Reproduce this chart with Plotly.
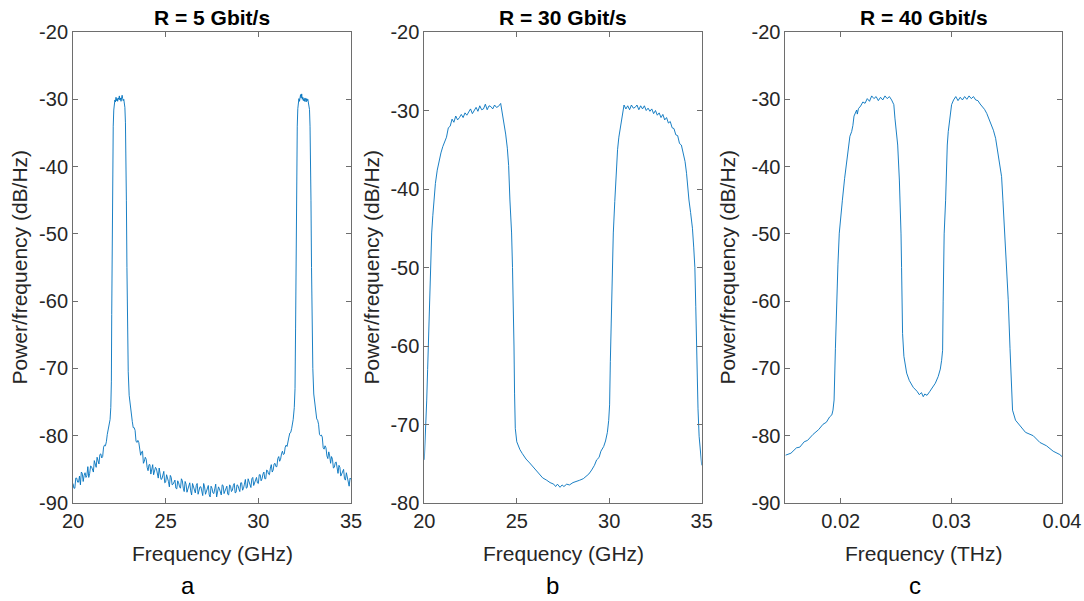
import plotly.graph_objects as go

# ---------------- spectra (power spectral density, dB/Hz) ----------------
# a) R = 5 Gbit/s, frequency in GHz
freq_a = [20.0, 20.05, 20.1, 20.15, 20.2, 20.25, 20.3, 20.35, 20.4, 20.45,
          20.5, 20.55, 20.6, 20.65, 20.7, 20.75, 20.8, 20.85, 20.9, 20.95,
          21.0, 21.05, 21.1, 21.15, 21.2, 21.25, 21.3, 21.35, 21.4, 21.45,
          21.5, 21.55, 21.6, 21.65, 21.7, 21.75, 21.8, 21.85, 21.9,
          22.0, 22.04, 22.07, 22.09, 22.11, 22.13, 22.15, 22.17, 22.2, 22.23,
          22.26, 22.29, 22.32, 22.35, 22.38, 22.41, 22.44, 22.47, 22.5, 22.53,
          22.56, 22.59, 22.62, 22.65, 22.68, 22.71, 22.74, 22.77, 22.8, 22.83,
          22.86, 22.88, 22.91, 22.94, 22.98, 23.03, 23.1,
          23.15, 23.2, 23.25, 23.3, 23.35, 23.4, 23.45, 23.5, 23.55, 23.6,
          23.65, 23.7, 23.75, 23.8, 23.85, 23.9, 23.95, 24.0, 24.05, 24.1,
          24.15, 24.2, 24.25, 24.3, 24.35, 24.4, 24.45, 24.5, 24.55, 24.6,
          24.65, 24.7, 24.75, 24.8, 24.85, 24.9, 24.95, 25.0, 25.05, 25.1,
          25.15, 25.2, 25.25, 25.3, 25.35, 25.4, 25.45, 25.5, 25.55, 25.6,
          25.65, 25.7, 25.75, 25.8, 25.85, 25.9, 25.95, 26.0, 26.05, 26.1,
          26.15, 26.2, 26.25, 26.3, 26.35, 26.4, 26.45, 26.5, 26.55, 26.6,
          26.65, 26.7, 26.75, 26.8, 26.85, 26.9, 26.95, 27.0, 27.05, 27.1,
          27.15, 27.2, 27.25, 27.3, 27.35, 27.4, 27.45, 27.5, 27.55, 27.6,
          27.65, 27.7, 27.75, 27.8, 27.85, 27.9, 27.95, 28.0, 28.05, 28.1,
          28.15, 28.2, 28.25, 28.3, 28.35, 28.4, 28.45, 28.5, 28.55, 28.6,
          28.65, 28.7, 28.75, 28.8, 28.85, 28.9, 28.95, 29.0, 29.05, 29.1,
          29.15, 29.2, 29.25, 29.3, 29.35, 29.4, 29.45, 29.5, 29.55, 29.6,
          29.65, 29.7, 29.75, 29.8, 29.85, 29.9, 29.95, 30.0, 30.05, 30.1,
          30.15, 30.2, 30.25, 30.3, 30.35, 30.4, 30.45, 30.5, 30.55, 30.6,
          30.65, 30.7, 30.75, 30.8, 30.85, 30.9, 30.95, 31.0, 31.05, 31.1,
          31.15, 31.2, 31.25, 31.3, 31.35, 31.4, 31.45, 31.5, 31.55, 31.6,
          31.65, 31.7, 31.75, 31.8,
          31.88, 31.94, 31.98, 32.01, 32.03, 32.06,
          32.08, 32.1, 32.13, 32.16, 32.19, 32.22, 32.25, 32.28, 32.31, 32.34,
          32.37, 32.4, 32.43, 32.46, 32.49, 32.52, 32.55, 32.58, 32.61, 32.64,
          32.67, 32.7, 32.73, 32.76, 32.79, 32.82, 32.84, 32.87, 32.9, 32.94,
          32.99, 33.05, 33.1,
          33.15, 33.2, 33.25, 33.3, 33.35, 33.4, 33.45, 33.5, 33.55, 33.6,
          33.65, 33.7, 33.75, 33.8, 33.85, 33.9, 33.95, 34.0, 34.05, 34.1,
          34.15, 34.2, 34.25, 34.3, 34.35, 34.4, 34.45, 34.5, 34.55, 34.6,
          34.65, 34.7, 34.75, 34.8, 34.85, 34.9, 34.95, 35.0]
psd_a = [-87.1, -87.8, -87.8, -86.3, -86.3, -86.9, -86.9, -86.0, -87.3, -85.4,
         -85.6, -86.8, -85.9, -85.5, -86.2, -85.9, -84.6, -86.2, -85.6, -84.5,
         -84.6, -85.2, -85.4, -83.7, -84.5, -84.7, -83.2, -83.9, -84.2, -82.8,
         -82.7, -83.3, -83.1, -81.7, -81.4, -81.5, -80.9, -79.8, -78.9,
         -77.6, -75.8, -72.0, -62.0, -52.0, -44.0, -37.5, -34.0, -31.6, -30.6,
         -30.1, -30.4, -29.7, -30.2, -29.9, -30.3, -29.8, -30.0, -29.5, -30.1,
         -29.8, -30.3, -29.6, -29.4, -29.9, -30.2, -30.0, -30.5, -31.2, -33.5,
         -38.0, -45.0, -55.0, -64.0, -70.5, -74.0, -75.9,
         -76.6, -77.9, -78.8, -78.8, -79.2, -80.8, -81.0, -80.7, -81.0, -82.4,
         -82.9, -82.4, -82.3, -84.1, -83.8, -83.2, -83.5, -84.7, -85.2, -84.3,
         -84.3, -85.7, -84.8, -84.3, -85.8, -85.4, -84.7, -84.9, -85.9, -86.3,
         -84.8, -85.7, -86.5, -86.4, -85.7, -85.3, -87.0, -86.9, -85.8, -86.2,
         -86.8, -87.6, -85.9, -86.2, -87.3, -87.2, -86.8, -86.6, -87.8, -87.9,
         -86.7, -87.0, -87.6, -87.8, -86.4, -86.7, -87.8, -88.3, -86.8, -87.2,
         -88.4, -87.9, -87.3, -87.0, -88.2, -88.8, -87.1, -87.6, -88.1, -88.5,
         -87.4, -87.1, -88.7, -88.3, -87.6, -87.6, -88.2, -88.9, -87.1, -87.6,
         -88.7, -88.3, -87.8, -87.4, -88.8, -89.1, -87.5, -87.8, -88.5, -88.6,
         -87.9, -87.2, -89.1, -88.5, -87.6, -87.9, -88.3, -88.8, -87.3, -87.4,
         -88.6, -88.3, -87.8, -87.5, -88.7, -88.8, -87.3, -87.5, -88.3, -88.1,
         -87.4, -87.1, -88.5, -88.4, -87.3, -87.4, -87.9, -88.3, -87.0, -87.0,
         -88.1, -87.8, -87.2, -86.5, -87.8, -87.7, -86.4, -86.9, -87.3, -87.7,
         -86.4, -86.2, -87.4, -87.0, -86.4, -86.2, -87.0, -87.1, -85.8, -85.8,
         -86.7, -86.4, -85.7, -85.4, -86.4, -86.4, -85.1, -85.2, -85.7, -85.8,
         -84.8, -84.3, -85.4, -85.1, -84.2, -84.1, -84.6, -84.6, -83.4, -83.1,
         -83.8, -83.5, -82.7, -82.3, -82.8, -82.7, -81.7, -81.4, -81.6, -81.1,
         -80.2, -79.6, -79.5, -78.9,
         -77.6, -75.8, -73.0, -64.0, -54.0, -45.0,
         -38.0, -34.0, -31.4, -30.5, -29.9, -30.3, -29.6, -29.3, -29.8, -29.2,
         -30.0, -29.7, -30.2, -29.9, -30.3, -29.8, -30.1, -30.4, -29.9, -30.2,
         -30.0, -30.4, -30.7, -31.5, -34.0, -39.0, -45.0, -55.0, -63.0, -70.0,
         -73.8, -75.3, -76.3,
         -77.5, -77.7, -78.3, -79.8, -80.0, -79.9, -80.2, -81.8, -82.0, -81.5,
         -81.8, -83.0, -83.4, -82.4, -83.0, -84.1, -83.1, -83.5, -84.8, -84.7,
         -84.0, -83.9, -85.0, -85.6, -84.4, -84.7, -86.0, -85.7, -85.3, -85.0,
         -86.4, -86.6, -85.5, -86.1, -86.9, -87.5, -86.3, -86.5]

# b) R = 30 Gbit/s, frequency in GHz
freq_b = [20.0, 20.02, 20.05, 20.09, 20.13, 20.18, 20.22, 20.27, 20.31, 20.36,
          20.4, 20.46, 20.52, 20.6, 20.7, 20.8, 20.9, 21.0, 21.1, 21.2,
          21.3, 21.4, 21.5, 21.6, 21.7, 21.8, 21.9, 22.0, 22.1, 22.2,
          22.3, 22.4, 22.5, 22.6, 22.7, 22.8, 22.9, 23.0, 23.1, 23.2,
          23.3, 23.4, 23.5, 23.6, 23.7, 23.8, 23.9, 24.0, 24.13, 24.2,
          24.31, 24.4, 24.49, 24.56, 24.63, 24.72, 24.77, 24.81, 24.85, 24.88,
          24.92, 25.0, 25.17, 25.3, 25.5, 25.7, 25.88, 26.0, 26.2, 26.4,
          26.62, 26.8, 27.0, 27.1, 27.2, 27.34, 27.45, 27.55, 27.7, 27.85,
          28.04, 28.2, 28.4, 28.6, 28.78, 28.9, 29.05, 29.2, 29.32, 29.45,
          29.55, 29.7, 29.8, 29.9, 29.97, 30.02, 30.06, 30.1, 30.13, 30.17,
          30.22, 30.3, 30.38, 30.45, 30.52, 30.6, 30.68, 30.75, 30.8, 30.9,
          31.0, 31.1, 31.2, 31.3, 31.4, 31.5, 31.6, 31.7, 31.8, 31.9,
          32.0, 32.1, 32.2, 32.3, 32.4, 32.5, 32.6, 32.7, 32.8, 32.9,
          33.0, 33.1, 33.2, 33.3, 33.4, 33.5, 33.6, 33.7, 33.8, 33.9,
          34.0, 34.1, 34.18, 34.25, 34.31, 34.4, 34.5, 34.57, 34.63, 34.68,
          34.72, 34.76, 34.8, 34.86, 34.93, 35.0]
psd_b = [-74.5, -73.5, -72.8, -70.0, -67.0, -63.0, -60.0, -55.0, -50.5, -47.5,
         -45.6, -43.4, -41.4, -39.3, -37.6, -36.3, -35.4, -34.6, -33.9, -33.4,
         -32.2, -32.0, -31.1, -31.5, -30.7, -31.2, -30.9, -30.5, -30.9, -30.3,
         -30.6, -30.2, -29.8, -30.4, -29.9, -29.6, -30.1, -29.4, -29.9, -29.8,
         -29.2, -29.9, -29.4, -29.5, -29.8, -29.3, -29.6, -29.5, -29.1, -30.0,
         -31.6, -33.0, -34.8, -37.0, -41.4, -45.6, -50.0, -54.0, -60.0, -66.0,
         -70.5, -72.2, -73.2, -73.7, -74.4, -74.9, -75.4, -75.8, -76.3, -76.8,
         -77.1, -77.4, -77.6, -77.9, -77.6, -78.0, -77.7, -77.9, -77.6, -77.7,
         -77.4, -77.3, -77.1, -76.9, -76.6, -76.3, -75.8, -75.2, -74.5, -74.2,
         -73.4, -72.8, -72.1, -71.0, -69.5, -67.5, -62.0, -57.0, -54.0, -49.5,
         -45.6, -41.6, -37.0, -35.0, -33.4, -32.3, -31.0, -29.8, -29.3, -29.8,
         -29.4, -29.9, -29.3, -29.7, -29.6, -29.3, -29.9, -29.4, -29.8, -29.4,
         -30.0, -29.7, -30.1, -29.8, -30.4, -30.0, -30.6, -30.3, -30.9, -30.5,
         -31.2, -30.9, -31.6, -31.4, -32.2, -32.3, -33.1, -33.2, -34.2, -34.4,
         -35.4, -36.5, -38.0, -40.0, -41.4, -43.0, -45.0, -47.5, -50.0, -55.0,
         -60.0, -64.0, -68.0, -71.5, -73.8, -75.2]

# c) R = 40 Gbit/s, frequency in THz
freq_c = [0.015, 0.0155, 0.016, 0.0163, 0.0167, 0.017, 0.0175, 0.018, 0.0184, 0.0187,
          0.019, 0.0192, 0.0193, 0.0194, 0.01952, 0.01963, 0.01975, 0.01987, 0.02, 0.02015,
          0.02035, 0.02054, 0.02068, 0.02083, 0.02099, 0.0211, 0.0212, 0.02135, 0.02144, 0.0215,
          0.0216, 0.0218, 0.022, 0.0222, 0.0224, 0.0226, 0.0228, 0.023, 0.0232, 0.0234,
          0.0236, 0.0238, 0.024, 0.0242, 0.0244, 0.0246, 0.0248, 0.0249, 0.025, 0.02515,
          0.0253, 0.02538, 0.02545, 0.0255, 0.02559, 0.02571, 0.02585, 0.02596, 0.0262, 0.02655,
          0.0269, 0.0271, 0.0273, 0.02746, 0.0276, 0.0278, 0.02806, 0.0283, 0.02855, 0.02881,
          0.029, 0.02912, 0.02921, 0.02926, 0.02935, 0.02948, 0.02956, 0.02963, 0.02972, 0.02981,
          0.0299, 0.03002, 0.0302, 0.0304, 0.0306, 0.0308, 0.031, 0.0312, 0.0314, 0.0316,
          0.0318, 0.032, 0.0322, 0.0324, 0.0326, 0.0328, 0.033, 0.0332, 0.0334, 0.0336,
          0.0338, 0.034, 0.03409, 0.0343, 0.03454, 0.03466, 0.03484, 0.035, 0.03514, 0.0353,
          0.03544, 0.03553, 0.0358, 0.0362, 0.0367, 0.0374, 0.038, 0.0386, 0.0392, 0.0398,
          0.04]
psd_c = [-82.9, -82.6, -81.8, -81.7, -80.9, -80.7, -79.8, -79.1, -78.3, -78.0,
         -77.2, -76.9, -76.2, -74.7, -67.0, -59.8, -54.5, -49.9, -47.0, -45.0,
         -41.8, -39.0, -36.8, -35.5, -34.8, -33.9, -32.5, -32.0, -31.6, -32.2,
         -31.4, -31.0, -30.4, -30.6, -29.9, -30.3, -29.5, -29.9, -29.6, -30.2,
         -29.7, -30.1, -29.5, -29.9, -29.6, -30.1, -30.8, -32.8, -34.5, -36.8,
         -42.0, -45.0, -50.0, -55.0, -64.8, -68.2, -69.8, -70.7, -71.8, -72.8,
         -73.4, -73.9, -73.6, -74.2, -73.8, -74.0, -73.4, -72.9, -72.2, -71.2,
         -70.1, -68.8, -67.3, -60.0, -50.0, -45.0, -40.0, -36.8, -34.8, -33.8,
         -32.2, -30.8, -30.1, -29.6, -30.2, -29.7, -30.1, -29.6, -30.0, -29.5,
         -29.9, -29.6, -30.1, -30.2, -30.7, -31.1, -31.5, -32.1, -32.9, -33.6,
         -34.6, -35.8, -36.8, -39.5, -41.5, -45.0, -49.9, -55.0, -59.8, -67.0,
         -74.7, -76.2, -77.7, -78.5, -79.5, -80.0, -81.0, -81.5, -82.3, -82.8,
         -83.1]

panel_titles = ["R = 5 Gbit/s", "R = 30 Gbit/s", "R = 40 Gbit/s"]
x_titles = ["Frequency (GHz)", "Frequency (GHz)", "Frequency (THz)"]
y_title = "Power/frequency (dB/Hz)"
captions = ["a", "b", "c"]

x_ranges = [[20, 35], [20, 35], [0.015, 0.04]]
x_ticks = [[20, 25, 30, 35], [20, 25, 30, 35], [0.02, 0.03, 0.04]]
x_ticktext = [["20", "25", "30", "35"], ["20", "25", "30", "35"], ["0.02", "0.03", "0.04"]]
y_ranges = [[-90, -20], [-80, -20], [-90, -20]]
y_ticks = [[-90, -80, -70, -60, -50, -40, -30, -20],
           [-80, -70, -60, -50, -40, -30, -20],
           [-90, -80, -70, -60, -50, -40, -30, -20]]

# ---------------- page geometry (pixels) ----------------
W, H = 1084, 601
ax_left = [73, 424.3, 785.4]
ax_right = [351, 701.7, 1062]
ax_top, ax_bottom = 32, 503
ylab_x = [19, 371, 727]
cap_x = [188, 552, 915]

FONT = "Liberation Sans, Arial, Helvetica, sans-serif"
TXT = "#262626"
AXC = "#6e6e6e"
LINE = "#0072BD"


def fx(px):
    return px / W


def fy(py):
    return 1 - py / H


fig = go.Figure()
series = [(freq_a, psd_a), (freq_b, psd_b), (freq_c, psd_c)]
layout = dict(
    width=W, height=H,
    margin=dict(l=0, r=0, t=0, b=0),
    paper_bgcolor="white", plot_bgcolor="white",
    showlegend=False,
    font=dict(family=FONT, color=TXT, size=20),
)
annotations = []
for i, (xs, ys) in enumerate(series):
    sfx = "" if i == 0 else str(i + 1)
    fig.add_trace(go.Scatter(
        x=xs, y=ys, mode="lines",
        line=dict(color=LINE, width=0.9),
        xaxis="x" + sfx, yaxis="y" + sfx,
        hoverinfo="skip",
    ))
    axis_common = dict(
        showline=True, linecolor=AXC, linewidth=1, mirror="ticks",
        ticks="inside", ticklen=5, tickwidth=1, tickcolor=AXC,
        showgrid=False, zeroline=False, automargin=False,
        tickfont=dict(family=FONT, size=20, color=TXT),
    )
    layout["xaxis" + sfx] = dict(
        axis_common,
        domain=[fx(ax_left[i]), fx(ax_right[i])],
        range=x_ranges[i], tickvals=x_ticks[i], ticktext=x_ticktext[i],
        anchor="y" + sfx,
    )
    layout["yaxis" + sfx] = dict(
        axis_common,
        domain=[fy(ax_bottom), fy(ax_top)],
        range=y_ranges[i], tickvals=y_ticks[i],
        ticktext=[str(v) for v in y_ticks[i]],
        anchor="x" + sfx,
    )
    cx = (ax_left[i] + ax_right[i]) / 2
    annotations.append(dict(
        text="<b>%s</b>" % panel_titles[i], x=fx(cx), y=fy(18),
        xref="paper", yref="paper", xanchor="center", yanchor="middle",
        showarrow=False, font=dict(family=FONT, size=21, color="#000000"),
    ))
    annotations.append(dict(
        text=x_titles[i], x=fx(cx), y=fy(553),
        xref="paper", yref="paper", xanchor="center", yanchor="middle",
        showarrow=False, font=dict(family=FONT, size=21, color=TXT),
    ))
    annotations.append(dict(
        text=y_title, x=fx(ylab_x[i]), y=fy((ax_top + ax_bottom) / 2),
        xref="paper", yref="paper", xanchor="center", yanchor="middle",
        textangle=-90,
        showarrow=False, font=dict(family=FONT, size=21, color=TXT),
    ))
    annotations.append(dict(
        text=captions[i], x=fx(cap_x[i]), y=fy(585),
        xref="paper", yref="paper", xanchor="center", yanchor="middle",
        showarrow=False, font=dict(family=FONT, size=24, color="#000000"),
    ))

layout["annotations"] = annotations
fig.update_layout(**layout)
fig.write_html("out.html")
